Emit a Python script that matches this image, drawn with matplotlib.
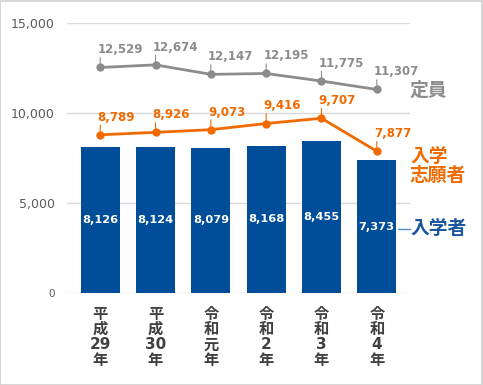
import numpy as np
import matplotlib.pyplot as plt
from matplotlib.patches import Rectangle

plt.rcParams['font.family'] = ['DejaVu Sans', 'Noto Sans CJK JP']

# =============================================================================
# Data
# =============================================================================
years = ["平\n成\n29\n年", "平\n成\n30\n年", "令\n和\n元\n年", "令\n和\n2\n年", "令\n和\n3\n年", "令\n和\n4\n年"]
capacity = [12529, 12674, 12147, 12195, 11775, 11307]      # 定員
applicants = [8789, 8926, 9073, 9416, 9707, 7877]          # 入学志願者
enrolled = [8126, 8124, 8079, 8168, 8455, 7373]            # 入学者

GRAY = '#8c8c8c'
ORANGE = '#f06a00'
BLUE = '#004e9a'

# =============================================================================
# Plot
# =============================================================================
fig = plt.figure(figsize=(4.83, 3.85), dpi=100)
ax = fig.add_axes([67 / 483, 1 - 293 / 385, (410 - 67) / 483, (293 - 23) / 385])
x = np.arange(len(years))

ax.bar(x, enrolled, width=0.7, color=BLUE, zorder=2)
for xi, v in zip(x, enrolled):
    ax.text(xi, v / 2, f"{v:,}", color='white', fontsize=8.2, fontweight='bold',
            ha='center', va='center', zorder=3)

def draw_line(values, color):
    ax.plot(x, values, color=color, lw=2, marker='o', markersize=5, zorder=4)
    for xi, v in zip(x, values):
        ax.annotate(f"{v:,}", xy=(xi, v), xytext=(-2, 8), textcoords='offset points',
                    ha='left', va='bottom', color=color, fontsize=8.5, fontweight='bold',
                    zorder=5)
        ax.annotate("", xy=(xi, v), xytext=(0, 7), textcoords='offset points',
                    arrowprops=dict(arrowstyle='-', color=color, lw=0.8,
                                    shrinkA=0, shrinkB=0), zorder=3)

draw_line(capacity, GRAY)
draw_line(applicants, ORANGE)

# leader for 入学者
ax.plot([5.38, 5.6], [3555, 3555], color='#5b8ac4', lw=1, clip_on=False)

ax.set_xlim(-0.6, 5.6)
ax.set_ylim(0, 15000)
ax.set_yticks([0, 5000, 10000, 15000])
ax.set_yticklabels(["0", "5,000", "10,000", "15,000"])
for lbl in ax.get_yticklabels():
    lbl.set_color('#595959')
    lbl.set_fontsize(9)
ax.get_yticklabels()[0].set_fontsize(7.5)
ax.tick_params(axis='y', length=0, pad=9)
ax.yaxis.grid(True, color='#d9d9d9', lw=1, zorder=0)
ax.set_axisbelow(True)

ax.set_xticks(x)
ax.set_xticklabels(years, fontsize=11, fontweight='bold', color='#404040',
                   linespacing=1.02)
ax.tick_params(axis='x', length=0, pad=10)

for s in ax.spines.values():
    s.set_visible(False)

# series labels on the right
fig.text(410 / 483, 1 - 90 / 385, "定員", color=GRAY, fontsize=13.5,
         fontweight='bold', ha='left', va='center')
fig.text(410 / 483, 1 - 166 / 385, "入学\n志願者", color=ORANGE, fontsize=13.5,
         fontweight='bold', ha='left', va='center', linespacing=1.05)
fig.text(410 / 483, 1 - 229 / 385, "入学者", color='#1a56a0', fontsize=13.5,
         fontweight='bold', ha='left', va='center')

# outer frame
fig.patches.append(Rectangle((0.001, 0.001), 0.997, 0.996, transform=fig.transFigure,
                             fill=False, edgecolor='#d0d0d0', lw=1.2))

fig.savefig("out.png", dpi=100)
